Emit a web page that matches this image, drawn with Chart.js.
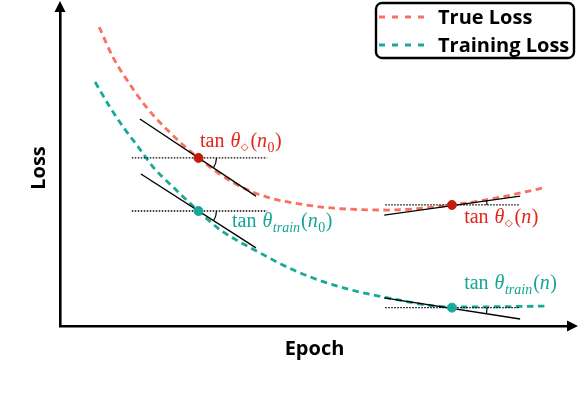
<!DOCTYPE html>
<html>
<head>
<meta charset="utf-8">
<script src="https://cdn.jsdelivr.net/npm/chart.js@4.4.0/dist/chart.umd.min.js"></script>
<style>
  html, body { margin: 0; padding: 0; background: #fff; }
  #wrap { width: 578px; height: 394px; }
</style>
</head>
<body>
<div id="wrap"><canvas id="myChart"></canvas></div>
<script>
// curves (epoch, loss)
const trueLossX  = [0.77, 1.04, 1.38, 1.71, 2.11, 2.72, 3.41, 4.07, 4.72, 5.37, 6.44, 7.70, 8.66, 9.49];
const trueLossY  = [9.46, 8.51, 7.63, 6.90, 6.20, 5.32, 4.53, 4.08, 3.86, 3.73, 3.67, 3.83, 4.08, 4.37];
const trainLossX = [0.69, 0.98, 1.24, 1.54, 1.83, 2.22, 2.72, 3.15, 3.90, 4.59, 5.37, 6.44, 7.70, 9.59];
const trainLossY = [7.72, 6.93, 6.30, 5.66, 5.03, 4.40, 3.64, 3.04, 2.34, 1.77, 1.30, 0.89, 0.60, 0.63];

// marked epochs n0 and n
const markX      = [2.72, 7.70];
const trueMarkY  = [5.32, 3.83];
const trainMarkY = [3.64, 0.58];

// tangent segments: [x0, y0, x1, y1]
const trueTangents  = [[1.57, 6.55, 3.85, 4.11], [6.37, 3.51, 9.04, 4.11]];
const trainTangents = [[1.59, 4.81, 3.85, 2.47], [6.37, 0.89, 9.04, 0.22]];
// horizontal reference span around each mark
const refSpanX = [[1.41, 4.07], [6.39, 9.04]];

const seriesLabels = ['True Loss', 'Training Loss'];
const axisTitles = { x: 'Epoch', y: 'Loss' };

const RED_CURVE = 'rgb(250,112,94)';
const TEAL_CURVE = 'rgb(22,170,152)';
const RED_TEXT = 'rgb(228,36,26)';
const TEAL_TEXT = 'rgb(20,165,150)';
const RED_DOT = 'rgb(196,26,14)';
const TEAL_DOT = 'rgb(22,168,154)';

const pts = (xs, ys) => xs.map((x, i) => ({ x: x, y: ys[i] }));
const seg = s => [{ x: s[0], y: s[1] }, { x: s[2], y: s[3] }];

const datasets = [];
// marked points on top
datasets.push({ label: 'markTrue', data: pts(markX, trueMarkY), backgroundColor: RED_DOT, borderColor: RED_DOT,
  pointRadius: 4.5, showLine: false, order: 0 });
datasets.push({ label: 'markTrain', data: pts(markX, trainMarkY), backgroundColor: TEAL_DOT, borderColor: TEAL_DOT,
  pointRadius: 4.5, showLine: false, order: 0 });
// tangents
trueTangents.concat(trainTangents).forEach((s, i) => {
  datasets.push({ label: 'tangent' + i, data: seg(s), showLine: true, borderColor: '#000', borderWidth: 1.4,
    pointRadius: 0, order: 1 });
});
// dotted horizontals
markX.forEach((mx, i) => {
  [trueMarkY[i], trainMarkY[i]].forEach((yy, j) => {
    datasets.push({ label: 'ref' + i + j, data: [{ x: refSpanX[i][0], y: yy }, { x: refSpanX[i][1], y: yy }],
      showLine: true, borderColor: '#000', borderWidth: 1.3, borderDash: [1.5, 1.5], pointRadius: 0, order: 2 });
  });
});
// the two loss curves
datasets.push({ label: seriesLabels[0], data: pts(trueLossX, trueLossY), showLine: true, borderColor: RED_CURVE,
  borderWidth: 2.8, borderDash: [6.5, 4.5], pointRadius: 0, cubicInterpolationMode: 'monotone', order: 3, isSeries: true });
datasets.push({ label: seriesLabels[1], data: pts(trainLossX, trainLossY), showLine: true, borderColor: TEAL_CURVE,
  borderWidth: 2.8, borderDash: [6.5, 4.5], pointRadius: 0, cubicInterpolationMode: 'monotone', order: 3, isSeries: true });

// math labels: [text, kind]
const mathLabels = [
  { at: [2.75, 5.66], color: RED_TEXT,  parts: [['tan', 'op'], ['θ', 'var'], ['◇', 'dia'], ['(', 'up'], ['n', 'var'], ['0', 'num'], [')', 'up']] },
  { at: [3.38, 3.13], color: TEAL_TEXT, parts: [['tan', 'op'], ['θ', 'var'], ['train', 'sub'], ['(', 'up'], ['n', 'var'], ['0', 'num'], [')', 'up']] },
  { at: [7.94, 3.26], color: RED_TEXT,  parts: [['tan', 'op'], ['θ', 'var'], ['◇', 'dia'], ['(', 'up'], ['n', 'var'], [')', 'up']] },
  { at: [7.94, 1.17], color: TEAL_TEXT, parts: [['tan', 'op'], ['θ', 'var'], ['train', 'sub'], ['(', 'up'], ['n', 'var'], [')', 'up']] }
];
const arcRadius = [18, 35];

const SERIF = '"Liberation Serif", "DejaVu Serif", serif';
function drawMath(ctx, lab, px, py) {
  const S = 20;
  let cx = px;
  ctx.fillStyle = lab.color;
  ctx.textBaseline = 'alphabetic';
  lab.parts.forEach(([t, kind]) => {
    let font = S + 'px ' + SERIF, dy = 0, after = 0;
    if (kind === 'op') { after = S * 0.3; }
    if (kind === 'var') { font = 'italic ' + S + 'px ' + SERIF; after = 0.5; }
    if (kind === 'sub') { font = 'italic 14px ' + SERIF; dy = 5; after = 1; }
    if (kind === 'num') { font = '14px ' + SERIF; dy = 4.5; after = 0.5; }
    if (kind === 'dia') { font = 'bold 10px "DejaVu Sans"'; dy = 3; after = 2; }
    ctx.font = font;
    ctx.fillText(t, cx, py + dy);
    cx += ctx.measureText(t).width + after;
  });
}

const overlay = {
  id: 'overlay',
  afterDatasetsDraw(chart) {
    const { ctx, chartArea: ca, scales: { x, y } } = chart;
    ctx.save();
    // arrowheads on the axes
    ctx.fillStyle = '#000';
    ctx.beginPath();
    ctx.moveTo(ca.left, ca.top - 9);
    ctx.lineTo(ca.left - 5.5, ca.top + 2);
    ctx.lineTo(ca.left + 5.5, ca.top + 2);
    ctx.closePath();
    ctx.fill();
    ctx.beginPath();
    ctx.moveTo(ca.right + 9, ca.bottom);
    ctx.lineTo(ca.right - 2, ca.bottom - 5.5);
    ctx.lineTo(ca.right - 2, ca.bottom + 5.5);
    ctx.closePath();
    ctx.fill();

    // angle arcs between horizontal and tangent
    ctx.strokeStyle = '#000';
    ctx.lineWidth = 1.2;
    const tangents = [trueTangents, trainTangents];
    const marksY = [trueMarkY, trainMarkY];
    tangents.forEach((list, k) => {
      list.forEach((s, i) => {
        const cx = x.getPixelForValue(markX[i]), cy = y.getPixelForValue(marksY[k][i]);
        const ang = Math.atan2(y.getPixelForValue(s[3]) - y.getPixelForValue(s[1]),
                               x.getPixelForValue(s[2]) - x.getPixelForValue(s[0]));
        ctx.beginPath();
        ctx.arc(cx, cy, arcRadius[i], Math.min(0, ang), Math.max(0, ang));
        ctx.stroke();
      });
    });

    // math labels
    mathLabels.forEach(lab => {
      drawMath(ctx, lab, x.getPixelForValue(lab.at[0]), y.getPixelForValue(lab.at[1]));
    });

    // legend with rounded frame
    const series = chart.data.datasets.filter(d => d.isSeries);
    const bw = 198, bh = 55;
    const bx = chart.width - bw - 4, by = 3;
    ctx.setLineDash([]);
    ctx.lineWidth = 2.4;
    ctx.strokeStyle = '#000';
    ctx.fillStyle = '#fff';
    ctx.beginPath();
    ctx.roundRect(bx, by, bw, bh, 6);
    ctx.fill();
    ctx.stroke();
    ctx.font = 'bold 20px "Open Sans", "Noto Sans", sans-serif';
    ctx.textBaseline = 'middle';
    series.forEach((d, i) => {
      const ry = by + 14 + i * 28;
      ctx.strokeStyle = d.borderColor;
      ctx.lineWidth = d.borderWidth;
      ctx.setLineDash([6, 7]);
      ctx.beginPath();
      ctx.moveTo(bx + 3, ry);
      ctx.lineTo(bx + 48, ry);
      ctx.stroke();
      ctx.fillStyle = '#000';
      ctx.fillText(d.label, bx + 62, ry + 1);
    });
    ctx.restore();
  }
};

const config = {
  type: 'scatter',
  data: { datasets: datasets },
  options: {
    responsive: false,
    animation: false,
    layout: { padding: { left: 20, top: 10, right: 9, bottom: 29 } },
    plugins: { legend: { display: false }, tooltip: { enabled: false } },
    scales: {
      x: {
        min: 0, max: 10,
        ticks: { display: false },
        grid: { drawOnChartArea: false, drawTicks: false },
        border: { display: true, color: '#000', width: 2.6 },
        title: { display: true, text: axisTitles.x, color: '#000', padding: { top: 11, bottom: 4 },
          font: { family: '"Open Sans", "Noto Sans", sans-serif', size: 20, weight: 'bold' } }
      },
      y: {
        min: 0, max: 10,
        ticks: { display: false },
        grid: { drawOnChartArea: false, drawTicks: false },
        border: { display: true, color: '#000', width: 2.6 },
        title: { display: true, text: axisTitles.y, color: '#000', padding: { top: 7, bottom: 9 },
          font: { family: '"Open Sans", "Noto Sans", sans-serif', size: 20, weight: 'bold' } }
      }
    }
  },
  plugins: [overlay]
};

const canvas = document.getElementById('myChart');
canvas.width = 578;
canvas.height = 394;
const myChart = new Chart(canvas, config);
</script>
</body>
</html>
